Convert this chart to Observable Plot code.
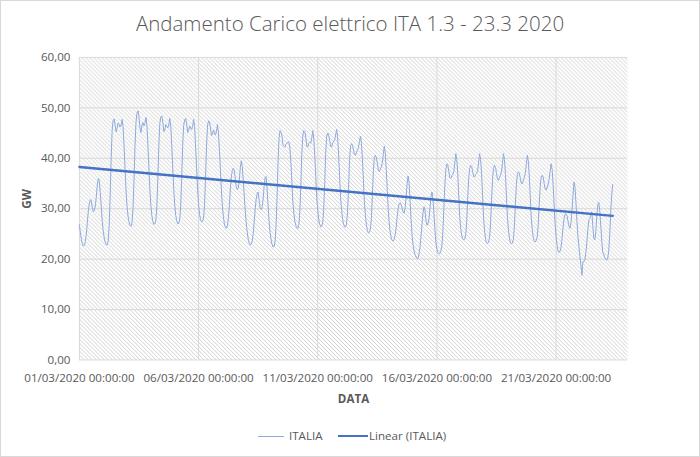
<!DOCTYPE html>
<html>
<head>
<meta charset="utf-8">
<script src="https://cdn.jsdelivr.net/npm/d3@7"></script>
<script src="https://cdn.jsdelivr.net/npm/@observablehq/plot@0.6"></script>
<style>
  body { margin: 0; background: #fff; }
  #chart { position: relative; width: 700px; height: 457px; box-sizing: border-box; border: 1px solid #d9d9d9; font-family: "Open Sans", sans-serif; color: #595959; overflow: hidden; background: #fff; }
  #title { position: absolute; left: -1px; width: 700px; top: 8px; text-align: center; font-size: 20.5px; font-weight: 300; color: #595959; white-space: nowrap; }
  #plot { position: absolute; left: -1px; top: -1px; }
  .lg { position: absolute; }
  .lgtext { position: absolute; font-size: 11.6px; color: #595959; top: 427px; white-space: nowrap; }
</style>
</head>
<body>
<div id="chart">
  <div id="title">Andamento Carico elettrico ITA 1.3 - 23.3 2020</div>
  <div id="plot"></div>
  <div class="lg" style="left:257px; top:434.5px; width:26px; height:1.2px; background:#8faadc;"></div>
  <div class="lgtext" style="left:288px;">ITALIA</div>
  <div class="lg" style="left:337px; top:433.8px; width:30px; height:2.4px; background:#4472c4;"></div>
  <div class="lgtext" style="left:368px;">Linear (ITALIA)</div>
</div>
<script>
// Hourly electric load in Italy (GW), starting 01/03/2020 00:00, one row per day
const seriesName = "ITALIA";
const startTime = Date.UTC(2020, 2, 1, 0, 0, 0);
const endTime = Date.UTC(2020, 2, 24, 0, 0, 0);
const italiaGW = [
  // 01/03 Sun
  26.8,25.2,23.9,23.0,22.6,22.7,23.5,25.0,27.3,29.5,31.0,31.8,31.6,30.2,29.4,29.6,30.5,32.3,34.6,36.0,35.6,33.2,30.4,27.6,
  // 02/03 Mon
  25.6,24.2,23.3,22.9,22.8,23.6,26.6,32.6,40.2,45.6,47.5,47.8,46.6,45.2,46.0,47.0,46.7,46.2,46.6,47.7,46.2,42.3,37.8,33.5,
  // 03/03 Tue
  30.4,28.5,27.3,26.7,26.5,27.2,30.1,35.6,42.6,47.2,48.9,49.4,48.2,46.0,45.1,46.6,47.1,46.4,46.9,48.1,46.6,42.6,38.1,33.7,
  // 04/03 Wed
  30.5,28.6,27.4,26.9,27.0,27.7,30.4,35.9,42.6,46.9,48.2,48.4,47.2,45.3,45.6,46.7,46.4,46.0,46.6,47.9,46.4,42.5,38.1,33.8,
  // 05/03 Thu
  30.7,28.7,27.6,27.0,27.1,27.8,30.5,36.0,42.6,46.5,47.6,47.9,46.8,45.1,45.5,46.4,46.0,45.7,46.3,47.7,46.3,42.4,38.1,33.8,
  // 06/03 Fri
  30.8,28.9,27.8,27.4,27.5,28.1,30.7,36.1,42.4,46.4,47.4,47.3,46.0,44.5,44.8,45.6,45.1,44.6,45.3,46.7,45.1,41.6,37.6,33.6,
  // 07/03 Sat
  30.4,28.4,27.0,26.3,26.1,26.6,28.1,30.6,33.9,36.3,37.6,38.0,37.5,35.9,34.4,33.8,34.1,35.6,38.1,39.5,38.4,35.6,32.5,29.6,
  // 08/03 Sun
  27.0,25.3,24.0,23.1,22.8,22.9,23.6,25.0,27.4,29.9,31.9,33.0,33.3,31.6,30.1,29.8,30.3,31.9,34.4,36.2,36.4,33.9,30.6,27.5,
  // 09/03 Mon
  25.3,23.8,22.9,22.4,22.5,23.4,26.4,32.1,39.1,43.9,45.5,45.2,44.4,42.6,42.4,42.2,42.8,43.0,43.2,43.2,42.0,39.0,35.2,31.2,
  // 10/03 Tue
  28.9,27.5,26.6,26.2,26.1,26.8,29.5,34.8,41.0,44.6,45.5,45.3,44.0,42.4,42.2,43.0,43.2,43.0,44.0,45.5,44.0,40.6,36.4,32.1,
  // 11/03 Wed
  29.6,27.9,26.9,26.4,26.5,27.2,29.8,35.0,41.0,44.4,45.0,44.6,43.5,42.4,42.2,43.0,43.4,43.6,44.6,45.7,44.3,40.8,36.5,32.2,
  // 12/03 Thu
  29.7,27.9,26.9,26.4,26.4,27.0,29.3,34.0,39.6,42.4,42.9,42.6,41.6,40.7,40.6,41.2,41.6,42.1,43.3,44.4,43.0,39.8,35.5,31.3,
  // 13/03 Fri
  28.6,26.8,25.7,25.2,25.3,25.9,28.0,32.6,37.6,40.2,40.6,40.2,39.0,37.7,37.3,37.8,38.3,39.0,40.8,42.4,41.0,37.8,33.6,29.8,
  // 14/03 Sat
  27.0,25.3,24.2,23.7,23.6,23.9,24.8,26.3,28.5,30.0,31.0,31.2,30.8,30.0,29.3,29.1,30.2,32.3,35.0,36.5,35.0,31.5,27.8,24.6,
  // 15/03 Sun
  22.8,21.6,20.9,20.4,20.1,20.2,21.0,22.5,24.6,27.0,29.2,30.4,29.6,27.6,26.7,27.0,28.0,30.0,32.3,33.3,32.0,29.0,25.8,23.2,
  // 16/03 Mon
  22.0,21.3,21.1,21.1,21.6,22.6,25.5,30.0,34.8,37.8,38.9,38.6,37.4,36.2,36.0,36.5,36.8,37.4,39.0,40.9,39.8,36.8,32.5,28.3,
  // 17/03 Tue
  26.0,24.6,24.0,23.8,24.0,24.8,27.5,32.0,36.0,38.0,38.6,38.4,37.3,36.4,36.3,36.8,37.0,37.6,39.2,40.9,39.8,36.8,32.5,28.2,
  // 18/03 Wed
  25.6,23.9,23.2,23.1,23.4,24.3,27.0,31.6,35.8,38.0,38.6,38.2,37.0,35.8,35.6,36.2,36.6,37.3,39.0,40.9,39.8,36.8,32.5,28.3,
  // 19/03 Thu
  25.8,24.2,23.3,23.0,23.2,24.0,26.5,30.8,34.8,36.8,37.3,37.0,36.0,35.0,35.0,35.6,36.2,37.0,38.8,40.6,39.5,36.5,32.3,28.2,
  // 20/03 Fri
  25.8,24.3,23.6,23.4,23.7,24.4,26.8,30.8,34.4,36.2,36.6,36.3,35.0,33.9,33.7,34.2,34.9,35.8,37.5,38.9,37.8,34.8,30.8,27.0,
  // 21/03 Sat
  24.5,22.7,21.6,21.3,21.6,22.4,24.2,26.3,28.0,28.9,29.0,28.6,27.5,26.5,26.1,27.2,29.5,32.6,35.3,34.3,31.2,27.5,24.5,22.5,
  // 22/03 Sun
  20.5,18.8,16.8,19.5,19.5,19.8,21.3,23.4,25.8,27.8,28.0,29.0,29.4,26.5,24.0,23.8,25.5,28.5,30.8,31.3,29.5,26.6,23.6,21.3,
  // 23/03 Mon (until 09:00)
  21.0,20.3,19.9,19.8,20.2,21.6,24.8,29.2,32.8,34.8
];
const yTicks = [0, 10, 20, 30, 40, 50, 60];
const xTickDays = [1, 6, 11, 16, 21];

const HOUR = 3600 * 1000;
const data = italiaGW.map((v, i) => ({ time: new Date(startTime + i * HOUR), gw: v }));
const xTicks = xTickDays.map(d => new Date(Date.UTC(2020, 2, d, 0, 0, 0)));
const fmtX = d3.utcFormat("%d/%m/%Y %H:%M:%S");
const fmtY = d => d.toFixed(2).replace(".", ",");

const plot = Plot.plot({
  width: 700,
  height: 430,
  marginTop: 57,
  marginBottom: 70,
  marginLeft: 79,
  marginRight: 72,
  style: { fontFamily: "Open Sans, sans-serif", fontSize: "11.6px", color: "#595959", background: "transparent", overflow: "visible" },
  x: { type: "utc", domain: [new Date(startTime), new Date(endTime)], label: null },
  y: { domain: [0, 60], label: null },
  marks: [
    Plot.frame({ fill: "url(#hatch)", stroke: null }),
    Plot.gridY(yTicks, { stroke: "#d9d9d9", strokeOpacity: 1, strokeWidth: 1 }),
    Plot.gridX(xTicks, { stroke: "#d9d9d9", strokeOpacity: 1, strokeWidth: 1 }),
    Plot.axisY(yTicks, { tickSize: 0, tickPadding: 9, tickFormat: fmtY, label: null }),
    Plot.axisX(xTicks, { tickSize: 0, tickPadding: 14, tickFormat: fmtX, label: null }),
    Plot.lineY(data, { x: "time", y: "gw", stroke: "#8faadc", strokeWidth: 1 }),
    Plot.linearRegressionY(data, { x: "time", y: "gw", stroke: "#4472c4", strokeWidth: 2.4, ci: 0 }),
    Plot.text(["GW"], { frameAnchor: "left", dx: -52, rotate: -90, fontWeight: "bold", fontSize: 11.6, fill: "#595959" }),
    Plot.text(["DATA"], { frameAnchor: "bottom", dy: 43, fontWeight: "bold", fontSize: 11.6, fill: "#595959" })
  ]
});

d3.select(plot).insert("defs", ":first-child").html(
  '<pattern id="hatch" patternUnits="userSpaceOnUse" width="4" height="4">' +
  '<rect width="4" height="4" fill="#ffffff"/>' +
  '<path d="M-1,-1 L5,5 M3,-1 L5,1 M-1,3 L1,5" stroke="#cccccc" stroke-width="0.9"/>' +
  '</pattern>'
);
document.getElementById("plot").appendChild(plot);
</script>
</body>
</html>
